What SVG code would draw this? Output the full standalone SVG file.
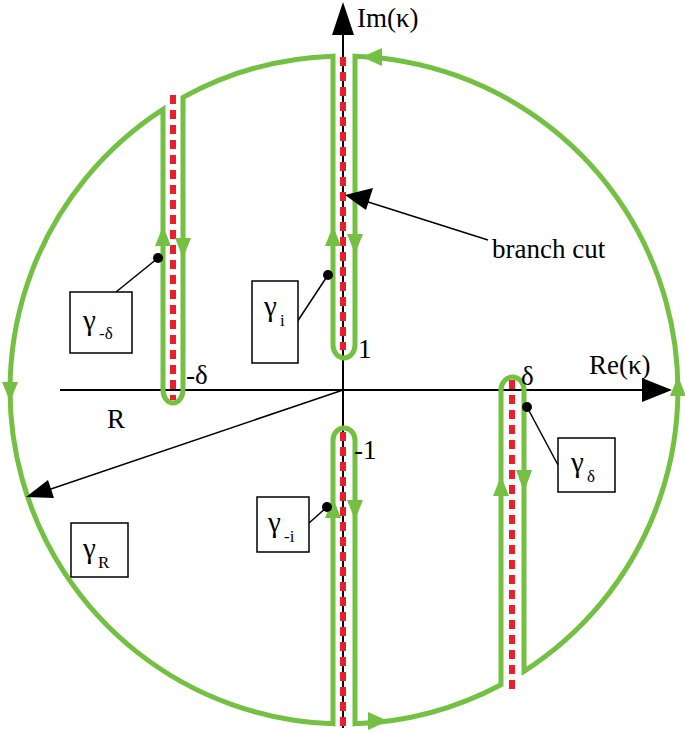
<svg xmlns="http://www.w3.org/2000/svg" width="685" height="734" viewBox="0 0 685 734">
<style>
.ax{stroke:#000;stroke-width:2;fill:none}
.cut{stroke:#ea1f2b;stroke-width:6;stroke-dasharray:9 6;fill:none}
.gr{stroke:#74c043;stroke-width:5;fill:none;stroke-linejoin:miter}
.ga{fill:#74c043}
.box{fill:#fff;stroke:#000;stroke-width:1.5}
.ptr{stroke:#000;stroke-width:1.5}
text{font-family:"Liberation Serif","DejaVu Serif",serif;fill:#000}
.t{font-size:27px}
.g{font-size:29px}
.s{font-size:17px}
</style>
<rect width="685" height="734" fill="#fff"/>
<g id="axes">
<line class="ax" x1="60" y1="390" x2="648" y2="390"/>
<polygon points="672,390 642,378 642,402" fill="#000"/>
<line class="ax" x1="343" y1="728" x2="343" y2="32"/>
<polygon points="343,2 332,35 354,35" fill="#000"/>
<text class="t" x="357" y="27">Im(κ)</text>
<text class="t" x="589" y="374">Re(κ)</text>
</g>
<g id="cuts">
<line class="cut" x1="343" y1="57" x2="343" y2="350"/>
<line class="cut" x1="343" y1="432" x2="343" y2="730"/>
<line class="cut" x1="173" y1="95" x2="173" y2="400"/>
<line class="cut" x1="512" y1="380" x2="512" y2="690"/>
</g>
<g id="contour">
<path class="gr" d="M355,56.2 L355,345 A11,13 0 0 1 333,345 L333,56.2 A334,334 0 0 0 183,97.4 L183,390 A10,13 0 0 1 163,390 L163,109.3 A334,334 0 0 0 333,723.8 L333,440 A11,12 0 0 1 355,440 L355,723.8 A334,334 0 0 0 501,684.8 L501,390 A11.5,13 0 0 1 524,390 L524,671.3 A334,334 0 0 0 355,56.2 Z"/>
<polygon class="ga" points="333,226 325,246 341,246"/>
<polygon class="ga" points="355,254 347,234 363,234"/>
<polygon class="ga" points="163,226 155,246 171,246"/>
<polygon class="ga" points="183,258 175,238 191,238"/>
<polygon class="ga" points="333,498 325,518 341,518"/>
<polygon class="ga" points="355,520 347,500 363,500"/>
<polygon class="ga" points="501,476 493,496 509,496"/>
<polygon class="ga" points="524,492 516,470 532,470"/>
<polygon class="ga" points="362,57 382,48 382,66"/>
<polygon class="ga" points="10,402 2,382 18,382"/>
<polygon class="ga" points="388,721 368,712 368,730"/>
<polygon class="ga" points="678,376 670,396 686,396"/>
</g>
<g id="connectors">
<line class="ptr" x1="343" y1="390" x2="45" y2="491"/>
<polygon points="26,497 48,480 54,498" fill="#000"/>
<line class="ptr" x1="488" y1="240" x2="365" y2="201"/>
<polygon points="345,195 373,188 366,210" fill="#000"/>
<line class="ptr" x1="158" y1="258" x2="116" y2="292"/>
<circle cx="158" cy="258" r="5"/>
<line class="ptr" x1="328" y1="275" x2="297" y2="322"/>
<circle cx="328" cy="275" r="5"/>
<line class="ptr" x1="327" y1="507" x2="309" y2="523"/>
<circle cx="327" cy="507" r="5"/>
<line class="ptr" x1="527" y1="407" x2="558" y2="465"/>
<circle cx="527" cy="407" r="5"/>
</g>
<g id="labels">
<text class="t" x="492" y="258">branch cut</text>
<text class="t" x="107" y="428">R</text>
<text class="t" x="186" y="384">-δ</text>
<text class="t" x="521" y="385">δ</text>
<text class="t" x="358" y="358">1</text>
<text class="t" x="354" y="459">-1</text>
</g>
<g id="gamma-mdelta">
<rect class="box" x="70" y="292" width="62" height="61"/>
<text class="g" x="83" y="330">γ</text><text class="s" x="99" y="339">-δ</text>
</g>
<g id="gamma-i">
<rect class="box" x="252" y="281" width="46" height="82"/>
<text class="g" x="264" y="316">γ</text><text class="s" x="280" y="326">i</text>
</g>
<g id="gamma-mi">
<rect class="box" x="257" y="497" width="52" height="55"/>
<text class="g" x="268" y="532">γ</text><text class="s" x="284" y="542">-i</text>
</g>
<g id="gamma-delta">
<rect class="box" x="558" y="438" width="57" height="54"/>
<text class="g" x="571" y="472">γ</text><text class="s" x="587" y="482">δ</text>
</g>
<g id="gamma-R">
<rect class="box" x="71" y="523" width="57" height="54"/>
<text class="g" x="83" y="558">γ</text><text class="s" x="98" y="568">R</text>
</g>
</svg>
